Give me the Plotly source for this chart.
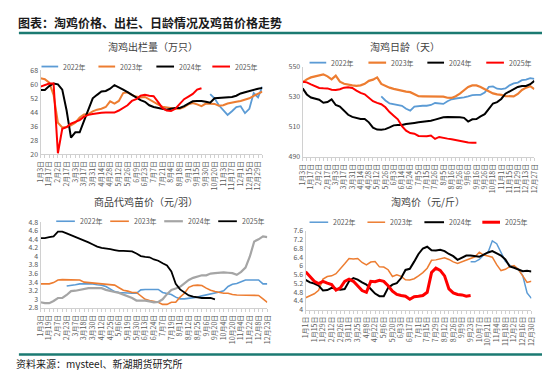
import plotly.graph_objects as go

W, H = 550, 370
FONT = "Noto Sans CJK SC"
GRAY_TXT = "#595959"
AXIS_C = "#D0D0D0"

years = ["2022年", "2023年", "2024年", "2025年"]

# ---------------- Panel 1: 淘鸡出栏量（万只） ----------------
c1_cats = ["1月3日","1月10日","1月17日","1月24日","2月2日","2月9日","2月17日","2月24日",
           "3月3日","3月10日","3月17日","3月24日","3月31日","4月7日","4月14日","4月21日",
           "4月28日","5月5日","5月12日","5月19日","5月26日","6月2日","6月9日","6月16日",
           "6月23日","6月30日","7月7日","7月14日","7月21日","7月28日","8月4日","8月11日",
           "8月18日","8月25日","9月1日","9月8日","9月15日","9月22日","9月30日","10月13日",
           "10月20日","10月27日","11月3日","11月10日","11月17日","11月24日","12月1日","12月8日",
           "12月15日","12月22日","12月29日","12月31日"]
c1_2022 = [None]*39 + [54.4, 52, 48, 45.5, 42.5, 44.6, 47, 47.5, 43.5, 46, 55, 52.5, 58.7]
c1_2023 = [63.5, 63, 61, 54, 38, 35.3, 35.5, 36.5, 38, 41,
           42.8, 43, 44.5, 45.5, 46, 47, 50.3, 49, 50.5, 55,
           55.5, 53.8, 53, 52.5, 52.8, 51.2, 50, 48.5, 47.2, 46.8,
           46.3, 46, 46, 47, 48.5, 49.3, 48.5, 47.5, 49, 49,
           48.8, 47.8, 48, 49, 49.3, 50, 50.5, 51.2, 52, 53.4,
           54.5, 55.9]
c1_2024 = [56.8, 56.8, 59, 60.5, 60, 57, 45, 29.5, 32.5, 32.5,
           39, 45, 52, 54, 55.9, 56.2, 57.5, 59.6, 58.5, 57,
           55.5, 54, 52.5, 51, 50, 48, 47, 46.5, 45.8, 45.5,
           46, 46.5, 46.5, 47.5, 49, 50.3, 50.5, 50.5, 50, 49.5,
           52, 52.2, 52.2, 52.4, 52.8, 53.5, 54.8, 55.5, 56.3, 57,
           57.5, 58]
c1_2025 = [58.7, 59.5, 60.5, 60.5, 20.5, 34.5, 35.5, 37.5, 38.5, 39.5,
           41.5, 42.5, 43, 43.5, 43.7, 43.8, 43.8, 43.8, 45, 46.5,
           48, 50.5, 51.5, 53.5, 54, 53.5, 53.2, 50, 46.5, 45,
           44.7, 46, 49, 51.5, 53, 54.5, 57, 57.8]

# ---------------- Panel 2: 淘鸡日龄（天） ----------------
c2_cats = ["1月3日","1月10日","1月17日","1月24日","2月2日","2月9日","2月17日","2月24日",
           "3月3日","3月10日","3月17日","3月24日","3月31日","4月7日","4月14日","4月21日",
           "4月28日","5月5日","5月12日","5月19日","5月26日","5月30日","6月3日","6月9日",
           "6月14日","6月19日","6月24日","6月29日","7月5日","7月10日","7月15日","7月20日",
           "7月26日","7月31日","8月5日","8月10日","8月16日","8月21日","8月26日","8月31日",
           "9月6日","9月11日","9月16日","9月21日","9月26日","10月4日","10月18日","10月25日",
           "11月1日","11月8日","11月15日","11月22日","11月29日","12月6日","12月13日","12月20日",
           "12月27日"]
c2_2022 = [None]*19 + [530.2, 527.5, 525.5, 524.9, 524.7, 524, 522, 520.8, 523.5, 524,
                       524, 524, 524.5, 525.8, 525.5, 525.2, 527, 528.3, 528.8, 529.1,
                       529.5, 530.2, 531, 531.2, 531.2, 532.8, 536.5, 536.8, 535.3, 535,
                       535.5, 537.5, 538.8, 539.4, 541, 541.3, 542.3, 541.8]
c2_2023 = [539.5, 541.5, 542.8, 543.6, 544.2, 544.8, 543.5, 541.5, 544, 540,
           538.6, 537.9, 537.5, 537.2, 537.5, 538.5, 540.5, 541.3, 542.8, 538.5,
           537, 536, 535.2, 534.5, 533.8, 533.4, 533, 531.5, 530.3, 530.2,
           530.2, 530.2, 530.2, 530.2, 530, 529.3, 529.2, 530.3, 532, 534.3,
           536.5, 537.5, 537.5, 536.5, 535, 533.4, 532.2, 531.5, 531.2, 530.4,
           530.2, 530.2, 531.8, 534.5, 536, 537, 535]
c2_2024 = [535.5, 531.5, 529.5, 528.8, 528, 526, 526.5, 528.2, 524.5, 523.5,
           520.5, 518, 516.6, 515.8, 515.2, 515.2, 513, 509.5, 508.2, 508.1,
           508.5, 509.7, 511, 511.3, 511.3, 511.9, 512.5, 512.6, 513, 513.3,
           513.6, 514, 514.8, 515.5, 516.4, 516.5, 516.5, 516.5, 516.4, 516,
           513.5, 515, 515.2, 517, 518.4, 522, 525.5, 526.4, 528.5, 532,
           533.4, 535, 536.5, 537.1, 537.1, 538.3, 540.5]
c2_2025 = [539.9, 539.5, 538.2, 536.8, 535.8, 535.6, 535.5, 534.6, 534.5, 535,
           536, 536.2, 535.8, 534, 532.5, 531.6, 529, 527, 525.9, 525,
           523, 519.8, 517.4, 515, 510.5, 507.5, 505.9, 505.5, 504, 503.8,
           503.8, 504.3, 502, 503.3, 502.5, 502.2, 501.8, 501.2, 500.5, 500,
           499.6, 499.5, 499.5]

# ---------------- Panel 3: 商品代鸡苗价（元/羽） ----------------
c3_cats = ["1月3日","1月11日","1月19日","1月31日","2月7日","2月15日","2月23日","3月1日",
           "3月7日","3月12日","3月18日","3月24日","3月30日","4月5日","4月12日","4月18日",
           "4月25日","4月30日","5月6日","5月12日","5月19日","5月25日","5月30日","6月6日",
           "6月13日","6月18日","6月24日","7月1日","7月7日","7月13日","7月19日","7月25日",
           "8月1日","8月6日","8月12日","8月18日","8月25日","8月30日","9月6日","9月13日",
           "9月20日","9月27日","10月4日","10月12日","10月20日","10月27日","11月4日","11月13日",
           "11月22日","11月30日","12月8日","12月15日","12月23日"]
c3_2022 = [None]*6 + [3.31, 3.32, 3.34, 3.36, 3.36, 3.36, 3.36, 3.34, 3.33, 3.3,
                      3.23, 3.18, 3.16, 3.15, 3.14, 3.14, 3.14, 3.22, 3.23, 3.23,
                      3.23, 3.23, 3.16, 3.13, 3.11, 3.05, 3.01, 3.01, 3.02, 3.03,
                      3.05, 3.08, 3.1, 3.12, 3.14, 3.17, 3.2, 3.3, 3.35, 3.37,
                      3.41, 3.45, 3.45, 3.45, 3.45, 3.36, 3.36]
c3_2023 = [3.36, 3.36, 3.36, 3.39, 3.45, 3.46, 3.46, 3.46, 3.46, 3.45,
           3.40, 3.39, 3.38, 3.37, 3.36, 3.34, 3.33, 3.33, 3.27, 3.21,
           3.19, 3.16, 3.16, 3.08, 3.0, 2.97, 2.95, 2.93, 2.88, 2.88,
           2.93, 2.93, 3.05, 3.14, 3.28, 3.32, 3.33, 3.32, 3.26, 3.21,
           3.18, 3.16, 3.14, 3.14, 3.11, 3.1, 3.1, 3.09, 3.09, 3.09,
           3.09, 3.01, 2.93]
c3_2024 = [2.93, 2.91, 2.91, 2.96, 3.03, 3.03, 3.1, 3.19, 3.2, 3.22,
           3.25, 3.26, 3.26, 3.26, 3.26, 3.22, 3.19, 3.17, 3.15, 3.11,
           3.08, 3.03, 2.97, 2.97, 2.97, 2.95, 2.93, 2.94, 3.0, 3.12,
           3.22, 3.25, 3.29, 3.37, 3.45, 3.5, 3.53, 3.56, 3.56, 3.6,
           3.61, 3.62, 3.63, 3.62, 3.61, 3.57, 3.64, 3.74, 4.0, 4.35,
           4.4, 4.47, 4.45]
c3_2025 = [4.43, 4.43, 4.45, 4.47, 4.58, 4.58, 4.54, 4.5, 4.46, 4.41,
           4.37, 4.33, 4.28, 4.23, 4.2, 4.19, 4.17, 4.15, 4.13, 4.13,
           4.12, 4.12, 4.07, 4.01, 3.99, 3.98, 3.93, 3.9, 3.84, 3.79,
           3.65, 3.36, 3.23, 3.16, 3.09, 3.06, 3.04, 3.03, 3.03, 3.03,
           3.0]

# ---------------- Panel 4: 淘鸡价（元/斤） ----------------
c4_cats = ["1月1日","1月8日","1月15日","1月22日","1月29日","2月5日","2月12日","2月19日",
           "2月26日","3月4日","3月11日","3月18日","3月25日","4月1日","4月8日","4月15日",
           "4月22日","4月29日","5月6日","5月13日","5月20日","5月27日","6月3日","6月10日",
           "6月17日","6月24日","7月1日","7月8日","7月15日","7月22日","7月29日","8月5日",
           "8月12日","8月19日","8月26日","9月2日","9月9日","9月16日","9月23日","9月30日",
           "10月7日","10月14日","10月21日","10月28日","11月4日","11月11日","11月18日","11月25日",
           "12月2日","12月9日","12月16日","12月23日","12月30日"]
c4_2022 = [None]*38 + [6.19, 6.19, 6.3, 6.5, 6.62, 7.15, 7.02, 6.65, 6.22, 6.04,
                       5.95, 5.84, 5.56, 4.77, 4.52]
c4_2023 = [4.55, 4.64, 4.73, 4.89, 5.4, 5.52, 5.55, 5.65, 5.9, 6.1,
           6.34, 6.32, 6.34, 6.16, 6.05, 6.18, 6.2, 5.96, 5.95, 5.83,
           5.52, 5.6, 5.53, 5.37, 5.36, 5.42, 5.55, 5.7, 5.9, 6.26,
           6.28, 6.33, 6.38, 6.3, 6.19, 6.12, 6.2, 6.27, 6.34, 6.42,
           6.63, 6.5, 6.46, 6.4, 6.06, 5.79, 5.85, 5.97, 6.02, 5.85,
           5.55, 5.25, 5.3]
c4_2024 = [5.37, 5.25, 5.2, 5.1, 4.88, 4.9, 5.0, 4.95, 4.92, 4.95,
           5.3, 5.45, 5.38, 5.25, 5.15, 4.95, 4.74, 4.62, 4.62, 5.0,
           5.15, 5.22, 5.45, 5.82, 5.87, 6.2, 6.55, 6.8, 6.88, 6.72,
           6.71, 6.74, 6.68, 6.55, 6.45, 6.28, 6.4, 6.48, 6.48, 6.45,
           6.42, 6.52, 6.62, 6.68, 6.56, 6.48, 6.3, 5.98, 5.92, 5.85,
           5.76, 5.78, 5.75]
c4_2025 = [5.74, 5.5, 5.3, 5.2, 5.3, 5.22, 5.15, 4.9, 5.0, 5.3,
           5.4, 5.3, 5.07, 4.88, 4.8, 5.3, 5.28, 5.35, 5.3, 5.1,
           4.85, 4.7, 4.65, 4.62, 4.48, 4.6, 4.62, 4.65, 4.8, 5.7,
           5.9, 5.8, 5.55, 4.95, 4.77, 4.7, 4.68, 4.62, 4.65]

BLUE, ORANGE, BLACK, RED, GRAY = "#5B9BD5", "#ED7D31", "#000000", "#FF0000", "#A5A5A5"


def px(x):
    return x / W


def py(y):
    return 1 - y / H


panels = [
    dict(title="淘鸡出栏量（万只）", title_xy=(142, 33), cats=c1_cats,
         series=[c1_2022, c1_2023, c1_2024, c1_2025],
         colors=[BLUE, ORANGE, BLACK, RED], widths=[1.8, 2, 2, 2],
         xdom=(27, 253), ydom=(58, 144), yrange=(20, 68), dtick=8,
         leg_y=54, leg=[(28, 45, 48), (86, 103, 106), (145, 163, 166), (202, 220, 223)]),
    dict(title="淘鸡日龄（天）", title_xy=(398, 33), cats=c2_cats,
         series=[c2_2022, c2_2023, c2_2024, c2_2025],
         colors=[BLUE, ORANGE, BLACK, RED], widths=[1.8, 2.2, 2, 2],
         xdom=(294, 530), ydom=(54, 147), yrange=(490, 550), dtick=20,
         leg_y=50, leg=[(301, 318, 321), (361, 379, 382), (421, 438, 441), (481, 499, 502)]),
    dict(title="商品代鸡苗价（元/羽）", title_xy=(134, 193), cats=c3_cats,
         series=[c3_2022, c3_2023, c3_2024, c3_2025],
         colors=[BLUE, ORANGE, GRAY, BLACK], widths=[1.6, 1.6, 2.2, 1.8],
         xdom=(27, 258), ydom=(214, 302), yrange=(2.8, 4.8), dtick=0.2,
         leg_y=213, leg=[(43, 62, 65), (98, 117, 120), (153, 172, 175), (208, 227, 230)]),
    dict(title="淘鸡价（元/斤）", title_xy=(422, 193), cats=c4_cats,
         series=[c4_2022, c4_2023, c4_2024, c4_2025],
         colors=[BLUE, ORANGE, BLACK, RED], widths=[1.5, 1.5, 2, 3],
         xdom=(297, 527), ydom=(223, 304), yrange=(4, 7.6), dtick=0.4,
         leg_y=214, leg=[(301, 320, 323), (360, 378, 381), (418, 438, 441), (477, 495, 498)]),
]

fig = go.Figure()
shapes = []
annotations = []
layout_axes = {}

for k, p in enumerate(panels, start=1):
    xa = "x" if k == 1 else f"x{k}"
    ya = "y" if k == 1 else f"y{k}"
    cats = p["cats"]
    for name, vals, col, w in zip(years, p["series"], p["colors"], p["widths"]):
        fig.add_trace(go.Scatter(x=cats, y=vals, mode="lines", name=name,
                                 line=dict(color=col, width=w), xaxis=xa, yaxis=ya,
                                 showlegend=False, connectgaps=False))
    ticktext = [c if i % 2 == 0 else "" for i, c in enumerate(cats)]
    layout_axes["xaxis" if k == 1 else f"xaxis{k}"] = dict(
        domain=[px(p["xdom"][0]), px(p["xdom"][1])], anchor=ya,
        type="category", categoryorder="array", categoryarray=cats,
        range=[0, len(cats) - 1],
        tickmode="array", tickvals=cats, ticktext=ticktext,
        tickangle=-90, tickfont=dict(size=7, color=GRAY_TXT, family=FONT),
        showline=True, linecolor=AXIS_C, linewidth=1,
        ticks="outside", ticklen=3, tickcolor=AXIS_C, showgrid=False, zeroline=False)
    layout_axes["yaxis" if k == 1 else f"yaxis{k}"] = dict(
        domain=[py(p["ydom"][1]), py(p["ydom"][0])], anchor=xa,
        range=list(p["yrange"]), tick0=p["yrange"][0], dtick=p["dtick"],
        tickfont=dict(size=7, color=GRAY_TXT, family=FONT),
        showline=True, linecolor=AXIS_C, linewidth=1, ticks="",
        showgrid=False, zeroline=False)
    annotations.append(dict(text=p["title"], x=px(p["title_xy"][0]), y=py(p["title_xy"][1]),
                            xref="paper", yref="paper", xanchor="center", yanchor="middle",
                            showarrow=False, font=dict(size=10, color="#404040", family=FONT)))
    for name, col, w, (x0, x1, xt) in zip(years, p["colors"], p["widths"], p["leg"]):
        shapes.append(dict(type="line", xref="paper", yref="paper",
                           x0=px(x0), x1=px(x1), y0=py(p["leg_y"]), y1=py(p["leg_y"]),
                           line=dict(color=col, width=w)))
        annotations.append(dict(text=name, x=px(xt), y=py(p["leg_y"]), xref="paper", yref="paper",
                                xanchor="left", yanchor="middle", showarrow=False,
                                font=dict(size=7, color=GRAY_TXT, family=FONT)))

# Header / footer
TEAL = "#1B7A72"
shapes.append(dict(type="line", xref="paper", yref="paper", x0=px(5), x1=px(546),
                   y0=py(19.5), y1=py(19.5), line=dict(color=TEAL, width=2.5)))
shapes.append(dict(type="line", xref="paper", yref="paper", x0=px(5), x1=px(546),
                   y0=py(350), y1=py(350), line=dict(color=TEAL, width=2.5)))
annotations.append(dict(text="<b>图表：淘鸡价格、出栏、日龄情况及鸡苗价格走势</b>",
                        x=px(2), y=py(9), xref="paper", yref="paper",
                        xanchor="left", yanchor="middle", showarrow=False,
                        font=dict(size=12, color="#1a1a1a", family=FONT)))
annotations.append(dict(text="资料来源：mysteel、新湖期货研究所",
                        x=px(1), y=py(359.5), xref="paper", yref="paper",
                        xanchor="left", yanchor="middle", showarrow=False, borderpad=0,
                        font=dict(size=10, color="#1a1a1a", family=FONT)))

fig.update_layout(width=W, height=H, autosize=False,
                  margin=dict(l=0, r=0, t=0, b=0),
                  paper_bgcolor="white", plot_bgcolor="white",
                  font=dict(family=FONT), showlegend=False,
                  shapes=shapes, annotations=annotations, **layout_axes)

fig.write_html("out.html")
